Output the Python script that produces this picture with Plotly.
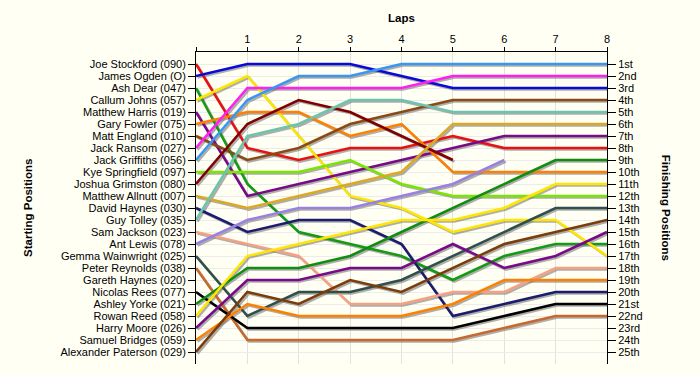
import plotly.graph_objects as go

# Drivers in starting order (label shows car number)
drivers = [
    "Joe Stockford (090)", "James Ogden (O)", "Ash Dear (047)", "Callum Johns (057)",
    "Matthew Harris (019)", "Gary Fowler (075)", "Matt England (010)", "Jack Ransom (027)",
    "Jack Griffiths (056)", "Kye Springfield (097)", "Joshua Grimston (080)",
    "Matthew Allnutt (007)", "David Haynes (030)", "Guy Tolley (035)", "Sam Jackson (023)",
    "Ant Lewis (078)", "Gemma Wainwright (025)", "Peter Reynolds (038)",
    "Gareth Haynes (020)", "Nicolas Rees (077)", "Ashley Yorke (021)", "Rowan Reed (058)",
    "Harry Moore (026)", "Samuel Bridges (059)", "Alexander Paterson (029)",
]
finish_labels = ["1st", "2nd", "3rd", "4th", "5th", "6th", "7th", "8th", "9th", "10th",
                 "11th", "12th", "13th", "14th", "15th", "16th", "17th", "18th", "19th",
                 "20th", "21st", "22nd", "23rd", "24th", "25th"]
laps = [0, 1, 2, 3, 4, 5, 6, 7, 8]
lap_labels = ["", "1", "2", "3", "4", "5", "6", "7", "8"]

N = None
# position of each driver (starting order) after each lap
lap_0 = [1, 2, 3, 4, 5, 6, 7, 8, 9, 10, 11, 12, 13, 14, 15, 16, 17, 18, N, 20, 21, 22, 23, 24, 25]
lap_1 = [8, 1, 11, 2, 12, 5, 9, 3, 4, 10, 6, 13, 15, 7, 16, 14, 22, 24, N, 23, 18, 17, 19, 21, 20]
lap_2 = [9, 1, 15, 7, 11, 5, 8, 3, 2, 10, 4, 12, 14, 6, 17, 13, 20, 24, N, 23, 18, 16, 19, 22, 21]
lap_3 = [8, 1, 16, 12, 10, 7, 6, 3, 2, 9, 5, 11, 14, 4, 21, 13, 20, 24, N, 23, 17, 15, 18, 22, 19]
lap_4 = [8, 2, 17, 13, 9, 6, 5, 3, 1, 11, 7, 10, 16, 4, 21, 12, 19, 24, N, 23, 15, 14, 18, 22, 20]
lap_5 = [7, 3, 19, 15, 8, 10, 4, 2, 1, 12, 9, 6, 22, 5, 20, 11, 17, 24, N, 23, 13, 14, 16, 21, 18]
lap_6 = [8, 3, 17, 14, 7, 10, 4, 2, 1, 12, N, 6, 21, 5, 20, 9, 15, 23, N, 22, 11, 13, 18, 19, 16]
lap_7 = [8, 3, 16, 14, 7, 10, 4, 2, 1, 12, N, 6, 20, 5, 18, N, 13, 22, N, 21, 9, 11, 17, 19, 15]
lap_8 = [8, 3, 16, 17, 7, 10, 4, 2, 1, 12, N, 6, 20, 5, 18, N, 13, 22, N, 21, 9, 11, 15, 19, 14]

colors = ["#e81010", "#0a0ad8", "#149a14", "#ffe600", "#780a88", "#ff8000", "#8a4a14",
          "#ff1ff0", "#3a96f0", "#7ae600", "#800000", "#dca825", "#1c1c6e", "#6cc4ac",
          "#f5a284", "#9a80e0", "#2f4f4a", "#c8682c", "#888888", "#000000", "#118c11",
          "#ffe600", "#780a88", "#ff8000", "#7a3c0a"]

all_laps = [lap_0, lap_1, lap_2, lap_3, lap_4, lap_5, lap_6, lap_7, lap_8]

fig = go.Figure()
FONT = "Liberation Sans, Arial, sans-serif"
BG = "#fffff4"

# pixel offsets for the drop shadow (in axis units)
plot_w, plot_h = 411, 312
dx = 1.6 * 8 / plot_w
dy = 1.6 * 26 / plot_h

series = []
for i, name in enumerate(drivers):
    ys = [lap[i] for lap in all_laps]
    if all(v is None for v in ys):
        continue
    series.append((name, ys, colors[i]))

for name, ys, c in series:
    fig.add_trace(go.Scatter(x=laps, y=ys, mode="lines", xaxis="x", yaxis="y",
                             line=dict(color="rgba(120,120,120,0.6)", width=2.5),
                             hoverinfo="skip", showlegend=False))
for name, ys, c in series:
    fig.add_trace(go.Scatter(x=laps, y=ys, mode="lines", xaxis="x2", yaxis="y2",
                             line=dict(color=c, width=2.5), name=name, showlegend=False))
# anchor trace for right axis
fig.add_trace(go.Scatter(x=[0], y=[1], mode="markers", xaxis="x2", yaxis="y3",
                         marker=dict(opacity=0), hoverinfo="skip", showlegend=False))

tf = dict(family=FONT, size=11, color="black")
ttl = dict(family=FONT, size=11.5, color="black")
fig.update_layout(
    width=700, height=375,
    margin=dict(l=196, r=93, t=52, b=11, autoexpand=False),
    paper_bgcolor=BG, plot_bgcolor=BG,
    font=tf,
    showlegend=False, hovermode=False,
    xaxis=dict(range=[-dx, 8 - dx], visible=False, domain=[0, 1], automargin=False),
    yaxis=dict(range=[26 - dy, -dy], visible=False, domain=[0, 1], automargin=False),
    xaxis2=dict(overlaying="x", side="top", anchor="y2", range=[0, 8], automargin=False,
                tickvals=laps, ticktext=lap_labels, ticks="outside", ticklen=4,
                tickcolor="black", showline=True, linecolor="black", linewidth=1,
                showgrid=True, gridcolor="#e2e2e2", gridwidth=1, zeroline=False,
                tickfont=tf),
    yaxis2=dict(overlaying="y", side="left", anchor="x2", range=[26, 0], automargin=False,
                tickvals=list(range(1, 26)), ticktext=drivers, ticks="outside",
                ticklen=7, tickcolor="black", showline=True, linecolor="black",
                showgrid=True, gridcolor="#ececec", gridwidth=1, zeroline=False,
                tickfont=tf),
    yaxis3=dict(overlaying="y", side="right", anchor="x2", range=[26, 0], automargin=False,
                tickvals=list(range(1, 26)), ticktext=finish_labels, ticks="outside",
                ticklen=8, tickcolor="black", showline=True, linecolor="black",
                showgrid=False, zeroline=False, tickfont=tf),
    annotations=[
        dict(text="<b>Laps</b>", xref="paper", yref="paper", x=0.5, y=1.109,
             xanchor="center", yanchor="middle", showarrow=False, font=ttl),
        dict(text="<b>Starting Positions</b>", xref="paper", yref="paper", x=-0.409,
             y=0.5, xanchor="center", yanchor="middle", textangle=-90,
             showarrow=False, font=ttl),
        dict(text="<b>Finishing Positions</b>", xref="paper", yref="paper", x=1.144,
             y=0.5, xanchor="center", yanchor="middle", textangle=90,
             showarrow=False, font=ttl),
    ],
)

fig.write_html(
    "out.html",
    config={"displayModeBar": False},
    post_script="document.body.style.margin='0';document.body.style.background='%s';" % BG,
)
